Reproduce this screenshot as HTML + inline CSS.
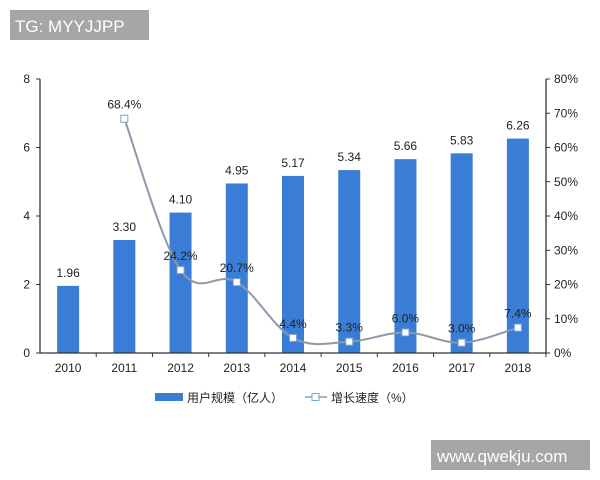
<!DOCTYPE html>
<html><head><meta charset="utf-8"><style>
body{margin:0;background:#fff;}
svg{display:block;font-family:"Liberation Sans","Noto Sans CJK SC",sans-serif;}
</style></head><body>
<svg id="s" width="600" height="480" viewBox="0 0 600 480">
<rect x="0" y="0" width="600" height="480" fill="#fff"/>
<rect x="10" y="10" width="139" height="30" fill="#a6a6a6"/>
<text x="15" y="32" font-size="17" fill="#fff">TG: MYYJJPP</text>
<rect x="431" y="440" width="159" height="30" fill="#a6a6a6"/>
<text x="437" y="462" font-size="17" fill="#fff">www.qwekju.com</text>
<g id="bars" fill="#3a7dd6"></g>
<g stroke="#333" stroke-width="1.3" fill="none">
<line x1="40" y1="79" x2="40" y2="353"/>
<line x1="546" y1="79" x2="546" y2="353"/>
<line x1="40" y1="353" x2="546" y2="353"/>
</g>
<g id="ticks" stroke="#333" stroke-width="1"></g>
<g id="lbl" font-size="12" fill="#222"></g>
<path id="ln" fill="none" stroke="#8d9aa8" stroke-width="2"/>
<g id="mk"></g>
<rect x="155" y="393" width="28" height="8" fill="#3a7dd6"/>
<text x="187" y="402" font-size="12" fill="#222">用户规模（亿人）</text>
<line x1="305" y1="397" x2="327" y2="397" stroke="#8d9aa8" stroke-width="1.5"/>
<rect x="312" y="393.5" width="7" height="7" fill="#fff" stroke="#7ba4c9"/>
<text x="331" y="402" font-size="12" fill="#222">增长速度（%）</text>
</svg>
<script>
var NS="http://www.w3.org/2000/svg";
function el(p,t,a,txt){var e=document.createElementNS(NS,t);for(var k in a)e.setAttribute(k,a[k]);if(txt!==undefined)e.textContent=txt;document.getElementById(p).appendChild(e);return e;}
var vals=[1.96,3.30,4.10,4.95,5.17,5.34,5.66,5.83,6.26];
var pct=[null,68.4,24.2,20.7,4.4,3.3,6.0,3.0,7.4];
var cw=506/9,u=34.25;
for(var i=0;i<9;i++){
 var cx=40+cw/2+cw*i,h=vals[i]*u;
 el("bars","rect",{x:cx-11,y:353-h,width:22,height:h});
 el("lbl","text",{x:cx,y:353-h-9,"text-anchor":"middle"},vals[i].toFixed(2));
 el("lbl","text",{x:cx,y:372,"text-anchor":"middle"},String(2010+i));
 el("ticks","line",{x1:40+cw*(i+1),y1:353,x2:40+cw*(i+1),y2:357});
}
for(var j=0;j<=4;j++){var y=353-j*2*u;
 el("ticks","line",{x1:36,y1:y,x2:40,y2:y});
 el("lbl","text",{x:30,y:y+4,"text-anchor":"end"},String(j*2));}
for(var j=0;j<=8;j++){var y=353-j*u;
 el("ticks","line",{x1:546,y1:y,x2:550,y2:y});
 el("lbl","text",{x:554,y:y+4},(j*10)+"%");}
var P=[];for(var i=1;i<9;i++)P.push([40+cw/2+cw*i,353-pct[i]*u/10]);
var d="M"+P[0][0]+","+P[0][1];
for(var i=0;i<P.length-1;i++){var p0=P[Math.max(0,i-1)],p1=P[i],p2=P[i+1],p3=P[Math.min(P.length-1,i+2)];
 var t=0.35/2*2;
 d+=" C"+(p1[0]+(p2[0]-p0[0])*t/2)+","+(p1[1]+(p2[1]-p0[1])*t/2)+" "+(p2[0]-(p3[0]-p1[0])*t/2)+","+(p2[1]-(p3[1]-p1[1])*t/2)+" "+p2[0]+","+p2[1];}
document.getElementById("ln").setAttribute("d",d);
for(var i=0;i<P.length;i++){
 el("mk","rect",{x:P[i][0]-3.5,y:P[i][1]-3.5,width:7,height:7,fill:"#fff",stroke:"#7ba4c9","stroke-width":1});
 el("mk","text",{x:P[i][0],y:P[i][1]-10,"text-anchor":"middle","font-size":"12",fill:"#222"},pct[i+1].toFixed(1)+"%");
}
</script>
</body></html>
